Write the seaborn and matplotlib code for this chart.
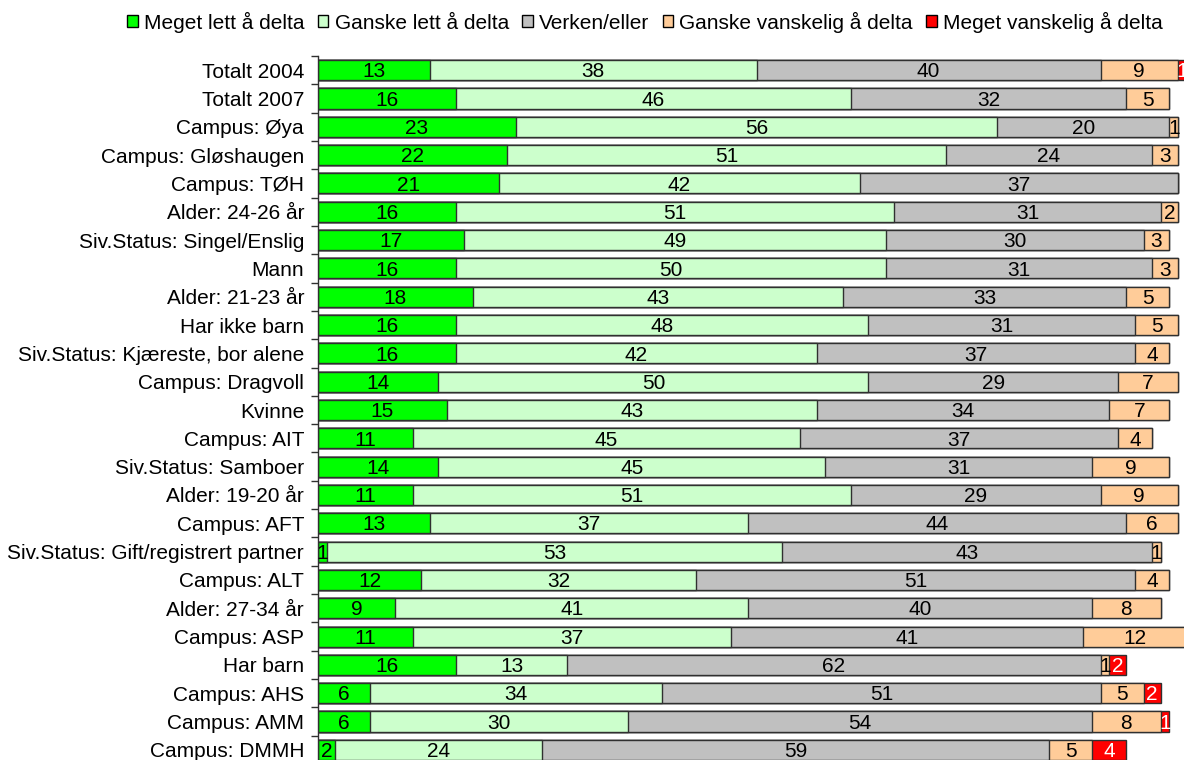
import numpy as np
import pandas as pd
import seaborn as sns
import matplotlib.pyplot as plt

# categories, top to bottom
groups = ['Totalt 2004', 'Totalt 2007', 'Campus: Øya', 'Campus: Gløshaugen', 'Campus: TØH',
          'Alder: 24-26 år', 'Siv.Status: Singel/Enslig', 'Mann', 'Alder: 21-23 år',
          'Har ikke barn', 'Siv.Status: Kjæreste, bor alene', 'Campus: Dragvoll', 'Kvinne',
          'Campus: AIT', 'Siv.Status: Samboer', 'Alder: 19-20 år', 'Campus: AFT',
          'Siv.Status: Gift/registrert partner', 'Campus: ALT', 'Alder: 27-34 år',
          'Campus: ASP', 'Har barn', 'Campus: AHS', 'Campus: AMM', 'Campus: DMMH']

series_names = ['Meget lett å delta', 'Ganske lett å delta', 'Verken/eller',
                'Ganske vanskelig å delta', 'Meget vanskelig å delta']

meget_lett = [13, 16, 23, 22, 21, 16, 17, 16, 18, 16, 16, 14, 15, 11, 14, 11, 13, 1, 12, 9, 11, 16, 6, 6, 2]
ganske_lett = [38, 46, 56, 51, 42, 51, 49, 50, 43, 48, 42, 50, 43, 45, 45, 51, 37, 53, 32, 41, 37, 13, 34, 30, 24]
verken = [40, 32, 20, 24, 37, 31, 30, 31, 33, 31, 37, 29, 34, 37, 31, 29, 44, 43, 51, 40, 41, 62, 51, 54, 59]
ganske_vansk = [9, 5, 1, 3, 0, 2, 3, 3, 5, 5, 4, 7, 7, 4, 9, 9, 6, 1, 4, 8, 12, 1, 5, 8, 5]
meget_vansk = [1, 0, 0, 0, 0, 0, 0, 0, 0, 0, 0, 0, 0, 0, 0, 0, 0, 0, 0, 0, 0, 2, 2, 1, 4]

colors = ['#00FF00', '#CCFFCC', '#C0C0C0', '#FFCC99', '#FF0000']
text_colors = ['black', 'black', 'black', 'black', 'white']

sns.set_style('white')
plt.rcParams['font.family'] = ['Liberation Sans', 'DejaVu Sans']
plt.rcParams['text.color'] = 'black'
plt.rcParams['ytick.color'] = 'black'

vals = np.array([meget_lett, ganske_lett, verken, ganske_vansk, meget_vansk])
cum = vals.cumsum(axis=0)
df = pd.DataFrame({'group': groups})
for k in range(5):
    df[f'cum{k}'] = cum[k]

W, H = 1184, 760
fig = plt.figure(figsize=(W / 100, H / 100), dpi=100)
ax_w = 900
ax_h = 708
ax = fig.add_axes([318 / W, (H - 56 - ax_h) / H, ax_w / W, ax_h / H])

# stacked bars: draw cumulative totals from the widest down
for k in range(4, -1, -1):
    sns.barplot(data=df, x=f'cum{k}', y='group', orient='h', color=colors[k],
                saturation=1, width=0.71, edgecolor='#303030', linewidth=1.0, ax=ax)

# value labels
for i in range(len(groups)):
    left = 0
    for k in range(5):
        v = vals[k, i]
        if v > 0:
            ax.text(left + v / 2, i + 0.06, str(v), ha='center', va='center',
                    fontsize=15, color=text_colors[k])
        left += v

ax.set_xlim(0, ax_w / 8.6)
ax.set_ylim(len(groups) - 0.5, -0.5)
ax.set_xlabel('')
ax.set_ylabel('')
ax.xaxis.set_visible(False)
for s in ['top', 'right', 'bottom']:
    ax.spines[s].set_visible(False)
ax.spines['left'].set_color('#303030')
ax.spines['left'].set_linewidth(1.0)
ax.set_yticks(range(len(groups)))
ax.set_yticklabels(groups, fontsize=15, color='black')
ax.set_yticks(np.arange(-0.5, len(groups), 1), minor=True)
ax.tick_params(axis='y', which='major', length=0, pad=10)
ax.tick_params(axis='y', which='minor', length=5, width=1, color='#303030', left=True)

handles = [plt.Rectangle((0, 0), 1, 1, facecolor=c, edgecolor='black', linewidth=1) for c in colors]
fig.legend(handles, series_names, loc='center', ncol=5, frameon=False,
           bbox_to_anchor=(645 / W, 1 - 22 / H), fontsize=15,
           handlelength=0.5, handleheight=0.5, handletextpad=0.3, columnspacing=0.65)

fig.savefig('out.png', dpi=100)
